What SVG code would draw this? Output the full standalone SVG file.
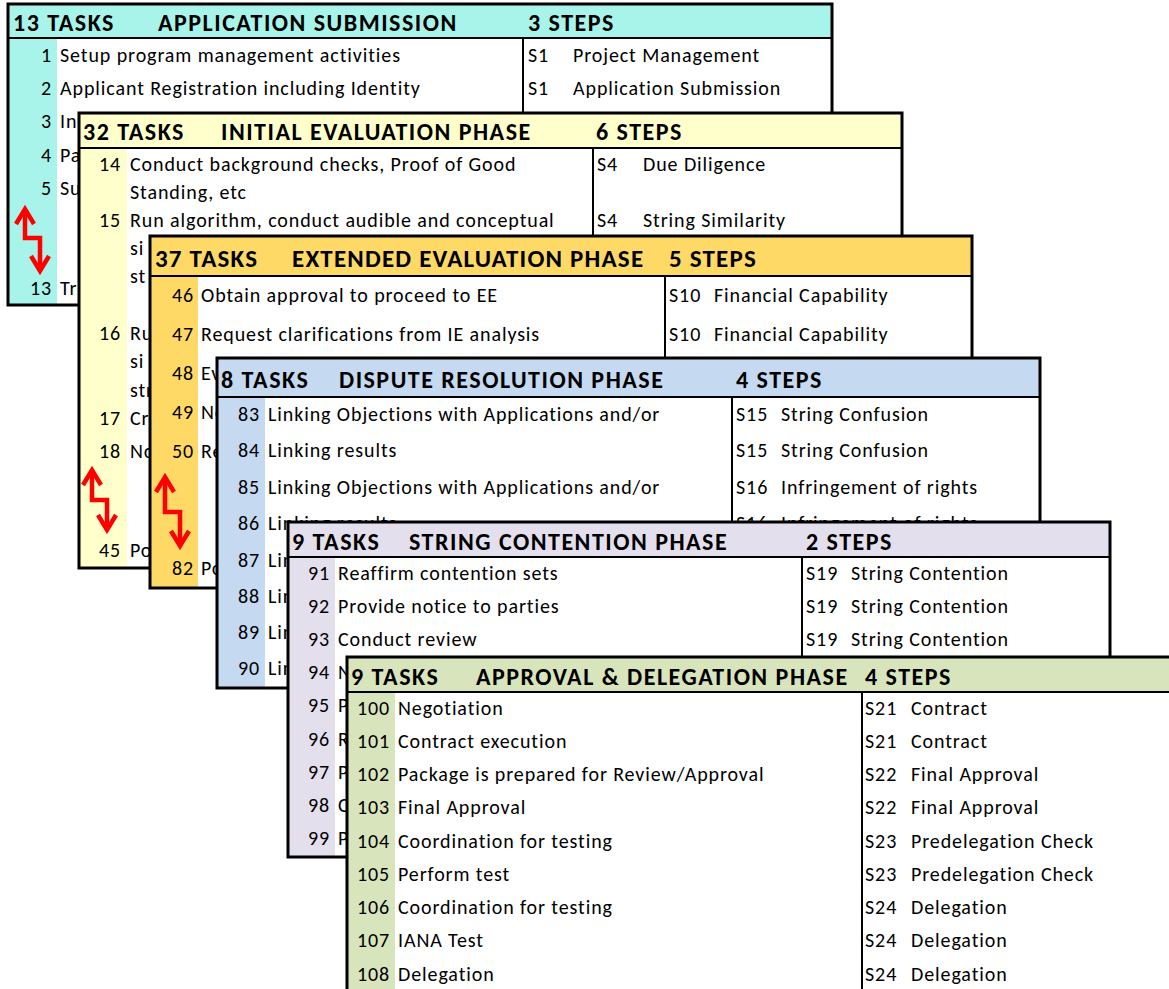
<svg xmlns="http://www.w3.org/2000/svg" width="1169" height="989" viewBox="0 0 1169 989">
<style>
.bg{fill:#fff}
.bd{fill:none;stroke:#000;stroke-width:3}
.ln{stroke:#000;stroke-width:2}
.hd{font-family:Carlito,Lato,"Open Sans",sans-serif;font-weight:bold;font-size:24px;letter-spacing:1.5px;fill:#000}
.hd3{font-size:25px;letter-spacing:1.2px}
.t{font-family:Carlito,Lato,"Open Sans",sans-serif;font-size:20px;letter-spacing:0.9px;fill:#000}
.n{font-family:Carlito,Lato,"Open Sans",sans-serif;font-size:20px;letter-spacing:0.9px;fill:#000;text-anchor:end}
.c1{fill:#A9F4EA}.c2{fill:#FFFFCC}.c3{fill:#FFD966}.c4{fill:#C5D9F1}.c5{fill:#E4DFEC}.c6{fill:#D8E4BC}
.arr{fill:none;stroke:#FF0000;stroke-width:4.5;marker-start:url(#ah);marker-end:url(#ah)}
</style>
<defs>
<marker id="ah" markerUnits="userSpaceOnUse" viewBox="-20 -12 24 24" refX="0" refY="0" markerWidth="24" markerHeight="24" orient="auto-start-reverse" overflow="visible">
<path d="M -15 -9 L 0 0 L -15 9" fill="none" stroke="#FF0000" stroke-width="4.5"/>
</marker>
</defs>

<g id="card1">
<rect class="bg" x="8" y="4" width="824" height="301"/>
<rect class="c1" x="8" y="4" width="824" height="34"/>
<rect class="c1" x="8" y="38" width="49" height="267"/>
<line class="ln" x1="8" y1="38" x2="832" y2="38"/>
<line class="ln" x1="523" y1="38" x2="523" y2="305"/>
<rect class="bd" x="8" y="4" width="824" height="301"/>
<text class="hd" x="13" y="31">13 TASKS</text>
<text class="hd" x="158" y="31">APPLICATION SUBMISSION</text>
<text class="hd" x="528" y="31">3 STEPS</text>
<text class="n" x="52" y="62">1</text><text class="t" x="60" y="62">Setup program management activities</text>
<text class="n" x="52" y="95">2</text><text class="t" x="60" y="95">Applicant Registration including Identity</text>
<text class="n" x="52" y="128">3</text><text class="t" x="60" y="128">In</text>
<text class="n" x="52" y="162">4</text><text class="t" x="60" y="162">Pa</text>
<text class="n" x="52" y="195">5</text><text class="t" x="60" y="195">Su</text>
<text class="n" x="52" y="295">13</text><text class="t" x="60" y="295">Tr</text>
<text class="t" x="528" y="62">S1</text><text class="t" x="573" y="62">Project Management</text>
<text class="t" x="528" y="95">S1</text><text class="t" x="573" y="95">Application Submission</text>
<path class="arr" d="M 25 209 V 238 H 40 V 271"/>
</g>

<g id="card2">
<rect class="bg" x="79" y="113" width="823" height="455"/>
<rect class="c2" x="79" y="113" width="823" height="35"/>
<rect class="c2" x="79" y="148" width="48" height="420"/>
<line class="ln" x1="79" y1="148" x2="902" y2="148"/>
<line class="ln" x1="593" y1="148" x2="593" y2="568"/>
<rect class="bd" x="79" y="113" width="823" height="455"/>
<text class="hd" x="83" y="140">32 TASKS</text>
<text class="hd" x="221" y="140">INITIAL EVALUATION PHASE</text>
<text class="hd" x="596" y="140">6 STEPS</text>
<text class="n" x="121" y="171">14</text><text class="t" x="130" y="171">Conduct background checks, Proof of Good</text>
<text class="t" x="130" y="199">Standing, etc</text>
<text class="n" x="121" y="227">15</text><text class="t" x="130" y="227">Run algorithm, conduct audible and conceptual</text>
<text class="t" x="130" y="255">si</text>
<text class="t" x="130" y="283">st</text>
<text class="n" x="121" y="340">16</text><text class="t" x="130" y="340">Ru</text>
<text class="t" x="130" y="368">si</text>
<text class="t" x="130" y="397">str</text>
<text class="n" x="121" y="425">17</text><text class="t" x="130" y="425">Cr</text>
<text class="n" x="121" y="458">18</text><text class="t" x="130" y="458">No</text>
<text class="n" x="121" y="557">45</text><text class="t" x="130" y="557">Po</text>
<text class="t" x="597" y="171">S4</text><text class="t" x="643" y="171">Due Diligence</text>
<text class="t" x="597" y="227">S4</text><text class="t" x="643" y="227">String Similarity</text>
<path class="arr" d="M 92 470 V 500 H 107 V 530"/>
</g>

<g id="card3">
<rect class="bg" x="150" y="236" width="822" height="352"/>
<rect class="c3" x="150" y="236" width="822" height="40"/>
<rect class="c3" x="150" y="276" width="48" height="312"/>
<line class="ln" x1="150" y1="276" x2="972" y2="276"/>
<line class="ln" x1="665" y1="276" x2="665" y2="588"/>
<rect class="bd" x="150" y="236" width="822" height="352"/>
<text class="hd hd3" x="155" y="267">37 TASKS</text>
<text class="hd hd3" x="292" y="267">EXTENDED EVALUATION PHASE</text>
<text class="hd hd3" x="669" y="267">5 STEPS</text>
<text class="n" x="194" y="302">46</text><text class="t" x="201" y="302">Obtain approval to proceed to EE</text>
<text class="n" x="194" y="341">47</text><text class="t" x="201" y="341">Request clarifications from IE analysis</text>
<text class="n" x="194" y="380">48</text><text class="t" x="201" y="380">Ev</text>
<text class="n" x="194" y="419">49</text><text class="t" x="201" y="419">No</text>
<text class="n" x="194" y="458">50</text><text class="t" x="201" y="458">Re</text>
<text class="n" x="194" y="575">82</text><text class="t" x="201" y="575">Po</text>
<text class="t" x="669" y="302">S10</text><text class="t" x="714" y="302">Financial Capability</text>
<text class="t" x="669" y="341">S10</text><text class="t" x="714" y="341">Financial Capability</text>
<path class="arr" d="M 165 477 V 512 H 180 V 546"/>
</g>

<g id="card4">
<rect class="bg" x="217" y="358" width="823" height="330"/>
<rect class="c4" x="217" y="358" width="823" height="39"/>
<rect class="c4" x="217" y="397" width="48" height="291"/>
<line class="ln" x1="217" y1="397" x2="1040" y2="397"/>
<line class="ln" x1="732" y1="397" x2="732" y2="688"/>
<rect class="bd" x="217" y="358" width="823" height="330"/>
<text class="hd" x="221" y="388">8 TASKS</text>
<text class="hd" x="339" y="388">DISPUTE RESOLUTION PHASE</text>
<text class="hd" x="736" y="388">4 STEPS</text>
<text class="n" x="260" y="421">83</text><text class="t" x="268" y="421">Linking Objections with Applications and/or</text>
<text class="n" x="260" y="457">84</text><text class="t" x="268" y="457">Linking results</text>
<text class="n" x="260" y="494">85</text><text class="t" x="268" y="494">Linking Objections with Applications and/or</text>
<text class="n" x="260" y="530">86</text><text class="t" x="268" y="530">Linking results</text>
<text class="n" x="260" y="567">87</text><text class="t" x="268" y="567">Lin</text>
<text class="n" x="260" y="603">88</text><text class="t" x="268" y="603">Lin</text>
<text class="n" x="260" y="639">89</text><text class="t" x="268" y="639">Lin</text>
<text class="n" x="260" y="675">90</text><text class="t" x="268" y="675">Lin</text>
<text class="t" x="736" y="421">S15</text><text class="t" x="781" y="421">String Confusion</text>
<text class="t" x="736" y="457">S15</text><text class="t" x="781" y="457">String Confusion</text>
<text class="t" x="736" y="494">S16</text><text class="t" x="781" y="494">Infringement of rights</text>
<text class="t" x="736" y="530">S16</text><text class="t" x="781" y="530">Infringement of rights</text>
</g>

<g id="card5">
<rect class="bg" x="288" y="522" width="822" height="335"/>
<rect class="c5" x="288" y="522" width="822" height="35"/>
<rect class="c5" x="288" y="557" width="47" height="300"/>
<line class="ln" x1="288" y1="557" x2="1110" y2="557"/>
<line class="ln" x1="802" y1="557" x2="802" y2="857"/>
<rect class="bd" x="288" y="522" width="822" height="335"/>
<text class="hd" x="292" y="550">9 TASKS</text>
<text class="hd" x="409" y="550">STRING CONTENTION PHASE</text>
<text class="hd" x="806" y="550">2 STEPS</text>
<text class="n" x="330" y="580">91</text><text class="t" x="338" y="580">Reaffirm contention sets</text>
<text class="n" x="330" y="613">92</text><text class="t" x="338" y="613">Provide notice to parties</text>
<text class="n" x="330" y="646">93</text><text class="t" x="338" y="646">Conduct review</text>
<text class="n" x="330" y="679">94</text><text class="t" x="338" y="679">N</text>
<text class="n" x="330" y="712">95</text><text class="t" x="338" y="712">P</text>
<text class="n" x="330" y="746">96</text><text class="t" x="338" y="746">R</text>
<text class="n" x="330" y="779">97</text><text class="t" x="338" y="779">P</text>
<text class="n" x="330" y="812">98</text><text class="t" x="338" y="812">C</text>
<text class="n" x="330" y="845">99</text><text class="t" x="338" y="845">P</text>
<text class="t" x="806" y="580">S19</text><text class="t" x="851" y="580">String Contention</text>
<text class="t" x="806" y="613">S19</text><text class="t" x="851" y="613">String Contention</text>
<text class="t" x="806" y="646">S19</text><text class="t" x="851" y="646">String Contention</text>
</g>

<g id="card6">
<rect class="bg" x="347" y="657" width="850" height="350"/>
<rect class="c6" x="347" y="657" width="850" height="35"/>
<rect class="c6" x="347" y="692" width="48" height="315"/>
<line class="ln" x1="347" y1="692" x2="1197" y2="692"/>
<line class="ln" x1="862" y1="692" x2="862" y2="1007"/>
<rect class="bd" x="347" y="657" width="850" height="350"/>
<text class="hd" x="351" y="685">9 TASKS</text>
<text class="hd" x="476" y="685">APPROVAL &amp; DELEGATION PHASE</text>
<text class="hd" x="865" y="685">4 STEPS</text>
<text class="n" x="390" y="715">100</text><text class="t" x="398" y="715">Negotiation</text>
<text class="n" x="390" y="748">101</text><text class="t" x="398" y="748">Contract execution</text>
<text class="n" x="390" y="781">102</text><text class="t" x="398" y="781">Package is prepared for Review/Approval</text>
<text class="n" x="390" y="814">103</text><text class="t" x="398" y="814">Final Approval</text>
<text class="n" x="390" y="848">104</text><text class="t" x="398" y="848">Coordination for testing</text>
<text class="n" x="390" y="881">105</text><text class="t" x="398" y="881">Perform test</text>
<text class="n" x="390" y="914">106</text><text class="t" x="398" y="914">Coordination for testing</text>
<text class="n" x="390" y="947">107</text><text class="t" x="398" y="947">IANA Test</text>
<text class="n" x="390" y="981">108</text><text class="t" x="398" y="981">Delegation</text>
<text class="t" x="865" y="715">S21</text><text class="t" x="911" y="715">Contract</text>
<text class="t" x="865" y="748">S21</text><text class="t" x="911" y="748">Contract</text>
<text class="t" x="865" y="781">S22</text><text class="t" x="911" y="781">Final Approval</text>
<text class="t" x="865" y="814">S22</text><text class="t" x="911" y="814">Final Approval</text>
<text class="t" x="865" y="848">S23</text><text class="t" x="911" y="848">Predelegation Check</text>
<text class="t" x="865" y="881">S23</text><text class="t" x="911" y="881">Predelegation Check</text>
<text class="t" x="865" y="914">S24</text><text class="t" x="911" y="914">Delegation</text>
<text class="t" x="865" y="947">S24</text><text class="t" x="911" y="947">Delegation</text>
<text class="t" x="865" y="981">S24</text><text class="t" x="911" y="981">Delegation</text>
</g>
</svg>
